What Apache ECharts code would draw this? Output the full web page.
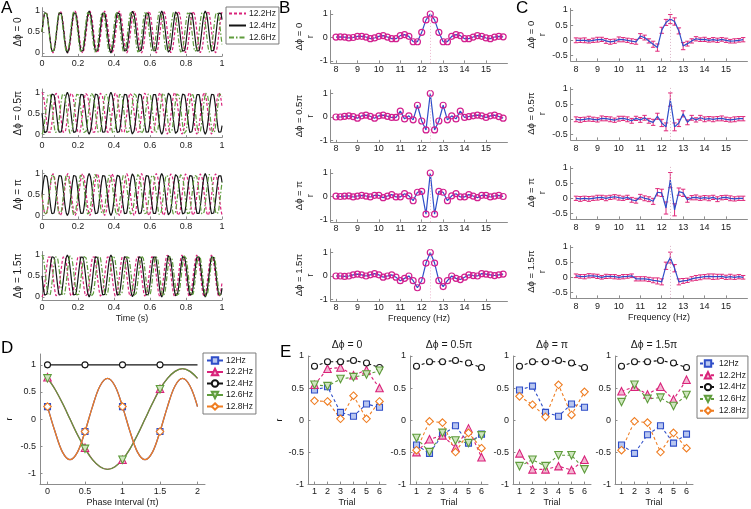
<!DOCTYPE html>
<html><head><meta charset="utf-8">
<script src="https://cdn.jsdelivr.net/npm/echarts@6/dist/echarts.min.js"></script>
<style>html,body{margin:0;padding:0;background:#fff}#c{width:751px;height:509px}</style>
</head><body><div id="c"></div>
<script>
// ================= DATA =================
const phaseNames = ['0', '0.5π', 'π', '1.5π'];
const phaseSteps = [0, 0.5, 1, 1.5];            // Δφ in units of π

// Panel A: stimulus parameters (freq in Hz, phase index k -> phase k·Δφ)
const aFreqs = [12.2, 12.4, 12.6];
const aNames = ['12.2Hz', '12.4Hz', '12.6Hz'];
const aPhaseIndex = [1, 2, 3];
const aTimeTicks = [0, 0.2, 0.4, 0.6, 0.8, 1];

// Panels B and C: frequency axis
const bFreq = [8.0,8.2,8.4,8.6,8.8,9.0,9.2,9.4,9.6,9.8,10.0,10.2,10.4,10.6,10.8,11.0,11.2,11.4,11.6,11.8,
               12.0,12.2,12.4,12.6,12.8,13.0,13.2,13.4,13.6,13.8,14.0,14.2,14.4,14.6,14.8,15.0,15.2,15.4,15.6,15.8];
const bFreqTicks = [8, 9, 10, 11, 12, 13, 14, 15];

// Panel B: r per frequency
const bPhase0 = [0.02,0.03,0.02,-0.02,0.0,0.05,0.05,0.02,-0.05,-0.02, 0.05,0.08,0.02,-0.05,-0.05,0.08,0.12,0.05,-0.18,-0.18,
                 0.22,0.75,1.0,0.75,0.22,-0.18,-0.18,0.05,0.12,0.08, -0.05,-0.05,0.02,0.08,0.05,-0.02,-0.05,0.02,0.05,0.03];
const bPhase05 = [0.0,0.0,0.03,0.05,0.02,-0.05,0.05,0.08,0.03,-0.05, 0.05,0.08,0.03,-0.02,-0.02,0.25,-0.08,0.05,-0.12,0.5,
                  -0.17,-0.55,1.0,-0.55,-0.17,0.5,-0.12,0.05,-0.08,0.25, -0.02,0.02,0.05,0.08,0.05,-0.02,0.05,0.08,0.02,-0.05];
const bPhase1 = [0.02,0.0,0.02,0.03,-0.02,0.02,0.05,0.02,-0.02,0.05, 0.05,-0.05,0.02,0.08,-0.02,-0.02,0.12,0.03,-0.18,0.18,
                 0.22,-0.75,1.0,-0.75,0.22,0.18,-0.18,0.03,0.12,-0.02, -0.02,0.08,0.02,-0.05,0.05,0.05,-0.02,0.02,0.05,0.0];
const bPhase15 = [0.0,0.0,-0.02,0.0,0.05,0.08,0.05,0.0,0.05,0.1, 0.05,-0.05,0.0,0.05,-0.05,-0.2,-0.1,0.0,-0.2,-0.5,
                  -0.2,0.55,1.0,0.55,-0.2,-0.45,-0.2,0.0,-0.1,-0.15, -0.05,0.05,0.02,0.0,0.1,0.08,0.05,0.02,0.05,0.08];

// Panel C: mean r and error per frequency
const cPhase0 = [0.0,0.0,0.0,-0.03,0.0,0.02,0.03,-0.02,-0.05,-0.03, 0.03,0.02,0.0,-0.03,-0.05,0.14,0.09,-0.02,-0.13,-0.24,
                 0.33,0.59,0.7,0.62,0.31,-0.19,-0.11,-0.02,0.05,0.02, 0.03,0.0,0.02,0.0,0.03,0.0,-0.03,-0.02,0.0,0.02];
const cErr0 = [0.08,0.07,0.08,0.06,0.07,0.08,0.07,0.08,0.08,0.07, 0.08,0.07,0.07,0.08,0.08,0.08,0.08,0.07,0.1,0.12,
               0.1,0.1,0.15,0.12,0.1,0.12,0.08,0.07,0.07,0.06, 0.07,0.06,0.07,0.07,0.06,0.07,0.06,0.07,0.06,0.07];
const cPhase05 = [0.0,-0.02,0.0,0.02,0.0,-0.02,0.03,0.02,0.0,-0.03, 0.02,0.03,0.0,-0.05,0.03,-0.02,0.05,-0.05,-0.1,0.1,
                  -0.12,-0.25,0.65,-0.25,-0.12,0.18,-0.1,0.05,-0.02,0.05, 0.0,0.02,0.0,0.02,0.03,0.0,-0.02,0.0,0.02,0.02];
const cErr05 = [0.08,0.08,0.07,0.08,0.07,0.07,0.08,0.07,0.08,0.07, 0.08,0.07,0.08,0.08,0.07,0.08,0.08,0.08,0.1,0.1,
                0.12,0.13,0.22,0.13,0.12,0.1,0.08,0.08,0.07,0.08, 0.08,0.07,0.08,0.07,0.08,0.07,0.07,0.08,0.07,0.07];
const cPhase1 = [0.0,-0.02,0.0,-0.02,0.0,0.02,0.03,0.0,0.03,0.05, 0.02,0.0,0.03,-0.05,-0.08,0.05,0.0,-0.03,-0.1,0.2,
                 0.18,-0.32,0.6,-0.38,0.22,0.18,-0.05,0.02,0.03,0.0, 0.02,0.0,0.03,-0.03,0.02,0.03,0.0,-0.02,0.0,0.0];
const cErr1 = [0.07,0.08,0.07,0.08,0.07,0.08,0.07,0.08,0.07,0.07, 0.08,0.07,0.07,0.08,0.08,0.08,0.08,0.08,0.1,0.12,
               0.12,0.2,0.25,0.2,0.12,0.12,0.08,0.07,0.08,0.07, 0.07,0.08,0.07,0.08,0.07,0.07,0.08,0.07,0.07,0.07];
const cPhase15 = [0.05,0.03,0.02,0.05,0.05,0.03,0.0,0.03,0.03,0.02, 0.0,0.02,0.03,0.05,-0.05,-0.05,-0.05,-0.07,-0.1,-0.12,
                  -0.15,0.38,0.65,0.3,-0.15,-0.12,-0.1,-0.05,-0.02,0.0, 0.02,0.03,0.02,0.02,0.03,0.0,0.02,0.0,0.02,0.0];
const cErr15 = [0.06,0.06,0.07,0.07,0.06,0.07,0.06,0.07,0.06,0.07, 0.06,0.07,0.06,0.06,0.07,0.07,0.07,0.07,0.08,0.1,
                0.1,0.12,0.18,0.12,0.1,0.08,0.07,0.07,0.08,0.08, 0.07,0.08,0.09,0.08,0.07,0.07,0.08,0.07,0.07,0.06];

// Panel D: r vs phase interval
const dX = [0,0.1,0.2,0.3,0.4,0.5,0.6,0.7,0.8,0.9,1.0,1.1,1.2,1.3,1.4,1.5,1.6,1.7,1.8,1.9,2.0];
const dCurveOrange = [0.23,-0.23,-0.61,-0.75,-0.61,-0.23,0.23,0.61,0.75,0.61,0.23,-0.23,-0.61,-0.75,-0.61,-0.23,0.23,0.61,0.75,0.61,0.23];
const dCurveGreen = [0.75,0.55,0.29,0.0,-0.29,-0.55,-0.75,-0.88,-0.93,-0.88,-0.75,-0.55,-0.29,0.0,0.29,0.55,0.75,0.88,0.93,0.88,0.75];
const dCurveBlack = [1,1,1,1,1,1,1,1,1,1,1,1,1,1,1,1,1,1,1,1,1];
const dMarkerX = [0, 0.5, 1, 1.5];
const d12 = [0.23,-0.23,0.23,-0.23];
const d122 = [0.77,-0.53,-0.75,0.56];
const d124 = [1,1,1,1];
const d126 = [0.75,-0.55,-0.75,0.55];
const d128 = [0.23,-0.23,0.23,-0.23];
const dXTicks = [0, 0.5, 1, 1.5, 2];
const rTicks = [-1, -0.5, 0, 0.5, 1];

// Panel E: r per trial
const eTrials = [1,2,3,4,5,6];
const e0_12 = [0.47,0.52,0.12,0.06,0.25,0.2];
const e0_122 = [0.55,0.8,0.82,0.7,0.78,0.5];
const e0_124 = [0.84,0.91,0.91,0.93,0.89,0.82];
const e0_126 = [0.55,0.53,0.64,0.67,0.71,0.77];
const e0_128 = [0.3,0.29,0.02,0.38,0.02,0.29];
const e05_12 = [-0.39,-0.52,-0.23,-0.09,-0.36,-0.22];
const e05_122 = [-0.5,-0.3,-0.24,-0.43,-0.13,-0.58];
const e05_124 = [0.84,0.91,0.91,0.93,0.89,0.82];
const e05_126 = [-0.28,-0.5,-0.2,-0.32,-0.36,-0.24];
const e05_128 = [-0.47,-0.02,-0.04,-0.5,-0.2,-0.44];
const e1_12 = [0.47,0.53,0.12,0.06,0.25,0.2];
const e1_122 = [-0.52,-0.77,-0.77,-0.72,-0.78,-0.62];
const e1_124 = [0.84,0.91,0.91,0.93,0.89,0.82];
const e1_126 = [-0.72,-0.62,-0.72,-0.55,-0.55,-0.77];
const e1_128 = [0.37,0.24,0.05,0.55,0.08,0.44];
const e15_12 = [-0.39,-0.52,-0.23,-0.09,-0.36,-0.22];
const e15_122 = [0.45,0.52,0.4,0.52,0.32,0.63];
const e15_124 = [0.84,0.91,0.91,0.93,0.89,0.82];
const e15_126 = [0.28,0.55,0.33,0.35,0.22,0.39];
const e15_128 = [-0.47,-0.02,-0.04,-0.5,-0.2,-0.44];
const freqNames = ['12Hz','12.2Hz','12.4Hz','12.6Hz','12.8Hz'];

// ================= STYLE / BUILD =================
const FONT = '"Liberation Sans", Arial, sans-serif';
const AX = '#8c8c8c', TXT = '#1a1a1a';
const PINK = '#d9237a', BLUE = '#2f4ec8', BLACK = '#141414', GREEN = '#5f9c3c', ORANGE = '#ef7d22';

const grids = [], xAxes = [], yAxes = [], series = [];
function valAxis(o) {
  const a = {
    type: 'value', min: o.min, max: o.max,
    axisLine: {show: true, onZero: false, lineStyle: {color: AX, width: 1}},
    axisTick: {show: true, inside: true, length: 2.5, lineStyle: {color: AX}},
    axisLabel: {show: true, color: TXT, fontSize: 9, fontFamily: FONT, margin: o.margin != null ? o.margin : 3},
    splitLine: {show: false}
  };
  if (o.ticks) { a.axisLabel.customValues = o.ticks; a.axisTick.customValues = o.ticks; }
  if (o.interval) a.interval = o.interval;
  if (o.name) {
    a.name = o.name; a.nameLocation = 'middle'; a.nameGap = o.nameGap;
    a.nameTextStyle = {fontSize: o.nameSize || 9, fontFamily: FONT, color: TXT, lineHeight: o.lineHeight || 11};
  }
  return a;
}
function addGrid(g, xa, ya) {
  grids.push(g); const i = grids.length - 1;
  xa.gridIndex = i; ya.gridIndex = i; xAxes.push(xa); yAxes.push(ya); return i;
}

// ---- Panel A ----
const aColors = [PINK, BLACK, GREEN];
const aDash = [[3, 2], 'solid', [5, 2, 1.5, 2]];
const aT = []; for (let k = 0; k <= 1000; k++) aT.push(k / 1000);
for (let p = 0; p < 4; p++) {
  const y1 = 11 + 81.3 * p, u = 42;
  const gi = addGrid({left: 42, top: y1 - 0.08 * u, width: 180, height: 1.16 * u},
    valAxis({min: 0, max: 1, interval: 0.2, margin: 3, name: p === 3 ? 'Time (s)' : null, nameGap: 12}),
    valAxis({min: -0.08, max: 1.08, ticks: [0, 0.5, 1], margin: 2, name: 'Δϕ = ' + phaseNames[p], nameGap: 11, nameSize: 10}));
  for (let k = 0; k < 3; k++) {
    const ph = aPhaseIndex[k] * phaseSteps[p] * Math.PI;
    series.push({
      type: 'line', name: p === 0 ? 'A|' + aNames[k] : 'a' + p + '_' + k,
      xAxisIndex: gi, yAxisIndex: gi, symbol: 'none', animation: false,
      lineStyle: {color: aColors[k], width: 1.2, type: aDash[k]}, itemStyle: {color: aColors[k]},
      data: aT.map(t => [t, 0.5 + 0.5 * Math.sin(2 * Math.PI * aFreqs[k] * t + ph)])
    });
  }
}

// ---- Panel B ----
const bSets = [bPhase0, bPhase05, bPhase1, bPhase15];
for (let p = 0; p < 4; p++) {
  const y1 = 14 + 79.5 * p, u = 23.5;
  const gi = addGrid({left: 336 - 0.25 * 21.43, top: y1 - 0.15 * u, width: 8.25 * 21.43, height: 2.23 * u},
    valAxis({min: 7.75, max: 16, ticks: bFreqTicks, margin: 2, name: p === 3 ? 'Frequency (Hz)' : null, nameGap: 9}),
    valAxis({min: -1.08, max: 1.15, ticks: [-1, 0, 1], margin: 3, name: 'Δϕ = ' + phaseNames[p] + '\nr', nameGap: 10, lineHeight: 11, nameSize: 9.5}));
  series.push({
    type: 'line', name: 'b' + p, xAxisIndex: gi, yAxisIndex: gi, animation: false,
    symbol: 'circle', symbolSize: 6,
    lineStyle: {color: BLUE, width: 1.2},
    itemStyle: {color: 'rgba(255,255,255,0)', borderColor: '#d21f8e', borderWidth: 1.2},
    data: bFreq.map((f, i) => [f, bSets[p][i]]),
    markLine: {silent: true, symbol: 'none', label: {show: false}, animation: false,
      lineStyle: {color: '#ecb7cf', type: [1, 2], width: 1}, data: [{xAxis: 12.4}]}
  });
}

// ---- Panel C ----
const cSets = [cPhase0, cPhase05, cPhase1, cPhase15];
const cErrs = [cErr0, cErr05, cErr1, cErr15];
for (let p = 0; p < 4; p++) {
  const y1 = 10 + 79 * p, u = 30.3;
  const gi = addGrid({left: 576 - 0.25 * 21.43, top: y1 - 0.05 * u, width: 8.25 * 21.43, height: 1.73 * u},
    valAxis({min: 7.75, max: 16, ticks: bFreqTicks, margin: 4, name: p === 3 ? 'Frequency (Hz)' : null, nameGap: 11}),
    valAxis({min: -0.68, max: 1.05, ticks: [-0.5, 0, 0.5, 1], margin: 3, name: 'Δϕ = ' + phaseNames[p] + '\nr', nameGap: 17, lineHeight: 11, nameSize: 9.5}));
  series.push({
    type: 'line', name: 'c' + p, xAxisIndex: gi, yAxisIndex: gi, animation: false,
    symbol: 'none', lineStyle: {color: BLUE, width: 1.2},
    data: bFreq.map((f, i) => [f, cSets[p][i]]),
    markLine: {silent: true, symbol: 'none', label: {show: false}, animation: false,
      lineStyle: {color: '#d9b3c6', type: [1, 2], width: 1}, data: [{xAxis: 12.4}]}
  });
  series.push({
    type: 'custom', name: 'cerr' + p, xAxisIndex: gi, yAxisIndex: gi, animation: false,
    data: bFreq.map((f, i) => [f, cSets[p][i], cErrs[p][i]]),
    encode: {x: 0, y: 1},
    renderItem: (params, api) => {
      const x = api.value(0), y = api.value(1), e = api.value(2);
      const t = api.coord([x, y + e]), b = api.coord([x, y - e]), w = 2.2;
      const st = {stroke: '#e0287a', lineWidth: 1};
      return {type: 'group', children: [
        {type: 'line', shape: {x1: t[0], y1: t[1], x2: b[0], y2: b[1]}, style: st},
        {type: 'line', shape: {x1: t[0] - w, y1: t[1], x2: t[0] + w, y2: t[1]}, style: st},
        {type: 'line', shape: {x1: b[0] - w, y1: b[1], x2: b[0] + w, y2: b[1]}, style: st}
      ]};
    }
  });
}

// ---- Panel D ----
const dGi = addGrid({left: 40, top: 354, width: 165, height: 132},
  valAxis({min: -0.1, max: 2.1, ticks: dXTicks, margin: 3, name: 'Phase Interval (π)', nameGap: 11}),
  valAxis({min: -1.2, max: 1.2, ticks: rTicks, margin: 4, name: 'r', nameGap: 25}));
const dDefs = [
  {name: '12Hz', curve: dCurveOrange, mk: d12, color: BLUE, symbol: 'rect', size: 6, fill: '#b8c6f0'},
  {name: '12.2Hz', curve: dCurveGreen, mk: d122, color: PINK, symbol: 'triangle', size: 7.5, fill: '#f3b6d2'},
  {name: '12.4Hz', curve: dCurveBlack, mk: d124, color: BLACK, symbol: 'circle', size: 6, fill: '#ffffff'},
  {name: '12.6Hz', curve: dCurveGreen, mk: d126, color: GREEN, symbol: 'triangle', rot: 180, size: 7.5, fill: '#cfe6bf'},
  {name: '12.8Hz', curve: dCurveOrange, mk: d128, color: ORANGE, symbol: 'diamond', size: 7.5, fill: '#ffffff'}
];
dDefs.forEach(d => {
  series.push({
    type: 'line', name: 'D|' + d.name, xAxisIndex: dGi, yAxisIndex: dGi, animation: false,
    smooth: 0.35, symbol: d.symbol, symbolSize: d.size, symbolRotate: d.rot || 0, showAllSymbol: true,
    lineStyle: {color: d.color, width: 1.3},
    itemStyle: {color: d.fill, borderColor: d.color, borderWidth: 1.1},
    data: dX.map((x, i) => {
      const k = dMarkerX.indexOf(x);
      return k >= 0 ? {value: [x, d.mk[k]]} : {value: [x, d.curve[i]], symbol: 'none'};
    })
  });
});

// ---- Panel E ----
const eSets = [
  [e0_12, e0_122, e0_124, e0_126, e0_128],
  [e05_12, e05_122, e05_124, e05_126, e05_128],
  [e1_12, e1_122, e1_124, e1_126, e1_128],
  [e15_12, e15_122, e15_124, e15_126, e15_128]
];
const eLefts = [308, 410, 513, 615];
for (let p = 0; p < 4; p++) {
  const gi = addGrid({left: eLefts[p], top: 356, width: 78, height: 131},
    valAxis({min: 0.5, max: 6.5, ticks: eTrials, margin: 3, name: 'Trial', nameGap: 10}),
    valAxis({min: -1, max: 1, interval: 0.5, margin: 4, name: p === 0 ? 'r' : null, nameGap: 21}));
  dDefs.forEach((d, k) => {
    series.push({
      type: 'line', name: p === 0 ? 'E|' + d.name : 'e' + p + '_' + k,
      xAxisIndex: gi, yAxisIndex: gi, animation: false,
      symbol: d.symbol, symbolSize: d.size, symbolRotate: d.rot || 0,
      lineStyle: {color: d.color, width: 1.1, type: [3, 2.5]},
      itemStyle: {color: d.fill, borderColor: d.color, borderWidth: 1.1},
      data: eTrials.map((t, i) => [t, eSets[p][k][i]])
    });
  });
}

const legendCommon = {
  orient: 'vertical', selectedMode: false, borderColor: '#7a7a7a', borderWidth: 1, borderRadius: 0,
  backgroundColor: '#fff', itemHeight: 8,
  formatter: n => n.split('|')[1],
  textStyle: {fontSize: 8.5, fontFamily: FONT, color: TXT, padding: [0, 0, 0, -2]}
};
const option = {
  backgroundColor: '#ffffff',
  animation: false,
  grid: grids, xAxis: xAxes, yAxis: yAxes, series: series,
  legend: [
    Object.assign({}, legendCommon, {left: 226, top: 7, itemWidth: 17, itemGap: 3, padding: [2, 3, 2, 2],
      itemStyle: {opacity: 0, borderWidth: 0},
      data: aNames.map(n => 'A|' + n)}),
    Object.assign({}, legendCommon, {left: 203, top: 353, itemWidth: 16, itemGap: 2.5, padding: [3, 3, 3, 3],
      data: freqNames.map(n => 'D|' + n)}),
    Object.assign({}, legendCommon, {left: 697, top: 356, itemWidth: 16, itemGap: 2.8, padding: [3, 2, 3, 2],
      data: freqNames.map(n => 'E|' + n)})
  ],
  graphic: [
    {type: 'text', left: 1, top: 0, style: {text: 'A', font: '17px ' + FONT, fill: '#000'}},
    {type: 'text', left: 279, top: 0, style: {text: 'B', font: '17px ' + FONT, fill: '#000'}},
    {type: 'text', left: 516, top: 0, style: {text: 'C', font: '17px ' + FONT, fill: '#000'}},
    {type: 'text', left: 1, top: 340, style: {text: 'D', font: '17px ' + FONT, fill: '#000'}},
    {type: 'text', left: 280, top: 344, style: {text: 'E', font: '17px ' + FONT, fill: '#000'}}
  ].concat(eLefts.map((l, p) => ({
    type: 'text', x: l + 39, y: 345,
    style: {text: 'Δϕ = ' + phaseNames[p], font: '10.5px ' + FONT, fill: TXT, textAlign: 'center', textVerticalAlign: 'middle'}
  })))
};
const chart = echarts.init(document.getElementById('c'), null, {renderer: 'canvas'});
chart.setOption(option);
</script>
</body></html>
